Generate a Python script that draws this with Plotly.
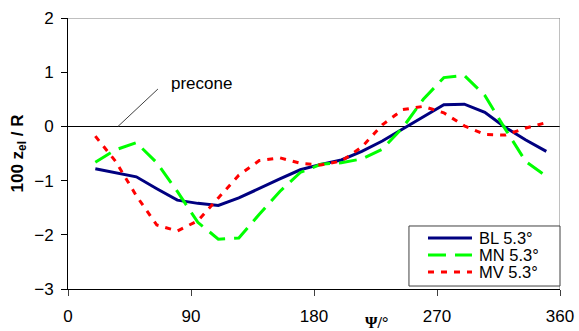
import plotly.graph_objects as go

# Azimuth positions (deg) and elastic flap deflection 100*z_el/R for three rotor models
psi = [20, 35, 50, 65, 80, 95, 110, 125, 140, 155, 170, 185, 200, 215, 230, 245, 260, 275, 290, 305, 320, 335, 350]
bl = [-0.78, -0.85, -0.93, -1.15, -1.36, -1.42, -1.46, -1.32, -1.14, -0.97, -0.80, -0.70, -0.62, -0.46, -0.27, -0.05, 0.18, 0.40, 0.41, 0.26, -0.02, -0.25, -0.46]
mn = [-0.66, -0.43, -0.30, -0.67, -1.20, -1.77, -2.08, -2.06, -1.62, -1.20, -0.85, -0.70, -0.67, -0.60, -0.42, -0.02, 0.50, 0.90, 0.94, 0.57, -0.05, -0.65, -0.92]
mv = [-0.18, -0.65, -1.28, -1.82, -1.93, -1.74, -1.32, -0.90, -0.63, -0.58, -0.68, -0.71, -0.64, -0.38, 0.03, 0.31, 0.37, 0.25, 0.01, -0.15, -0.16, -0.03, 0.07]

series_names = ["BL 5.3°", "MN 5.3°", "MV 5.3°"]
x_ticks = [0, 90, 180, 270, 360]
y_ticks = [-3, -2, -1, 0, 1, 2]

FONT = "Arial, Liberation Sans, sans-serif"
styles = [
    dict(color="#000080", width=3),
    dict(color="#00FF00", width=3, dash="18px,9px"),
    dict(color="#FF0000", width=3, dash="6px,7px"),
]

fig = go.Figure()
for name, ys, st in zip(series_names, [bl, mn, mv], styles):
    fig.add_trace(go.Scatter(x=psi, y=ys, mode="lines", name=name, line=st, showlegend=False))

# grey frame on the top and right sides
fig.add_shape(type="line", xref="x", yref="y", x0=0, x1=360, y0=2, y1=2,
              line=dict(color="#808080", width=1))
fig.add_shape(type="line", xref="x", yref="y", x0=360, x1=360, y0=-3, y1=2,
              line=dict(color="#808080", width=1))

# precone leader line and label
fig.add_shape(type="line", xref="x", yref="y", x0=36.6, y0=0.0, x1=65.8, y1=0.69,
              line=dict(color="#404040", width=1))
fig.add_annotation(x=98, y=0.80, xref="x", yref="y", text="precone", showarrow=False,
                   font=dict(family=FONT, size=17, color="#000000"))

# compact legend box in the lower right corner
fig.add_shape(type="rect", xref="paper", yref="paper", x0=0.693, x1=1.0, y0=0.011, y1=0.2325,
              line=dict(color="#404040", width=1), fillcolor="white", layer="above")
row_y = [0.188, 0.1255, 0.0627]
for name, st, ry in zip(series_names, styles, row_y):
    fig.add_shape(type="line", xref="paper", yref="paper", x0=0.7317, x1=0.8211, y0=ry, y1=ry,
                  line=st, layer="above")
    fig.add_annotation(x=0.8313, y=ry, xref="paper", yref="paper", text=name, showarrow=False,
                       xanchor="left", yanchor="middle",
                       font=dict(family=FONT, size=16.5, color="#000000"))

# x-axis title
fig.add_annotation(x=0.628, y=-0.125, xref="paper", yref="paper", text="<b>Ψ/°</b>",
                   showarrow=False, yanchor="middle",
                   font=dict(family="Times New Roman, Liberation Serif, serif",
                             size=16, color="#000000"))

fig.update_layout(
    width=579, height=331,
    margin=dict(l=68, r=19, t=18, b=42),
    paper_bgcolor="white", plot_bgcolor="white",
    font=dict(family=FONT, size=17, color="#000000"),
    showlegend=False,
    xaxis=dict(range=[0, 360], tickvals=x_ticks, ticks="outside", ticklen=6,
               tickcolor="#404040", showline=True, linecolor="#000000", linewidth=1,
               showgrid=False, zeroline=False, tickfont=dict(size=17),
               ticklabelstandoff=6, automargin=False),
    yaxis=dict(range=[-3, 2], tickvals=y_ticks, ticks="outside", ticklen=6,
               tickcolor="#000000", showline=True, linecolor="#000000", linewidth=1,
               showgrid=False, zeroline=True, zerolinecolor="#000000", zerolinewidth=1,
               tickfont=dict(size=17), ticklabelstandoff=4, automargin=False,
               title=dict(text="<b>100 z<sub>el</sub> / R</b>", font=dict(size=17), standoff=6)),
)

fig.write_html("out.html")
